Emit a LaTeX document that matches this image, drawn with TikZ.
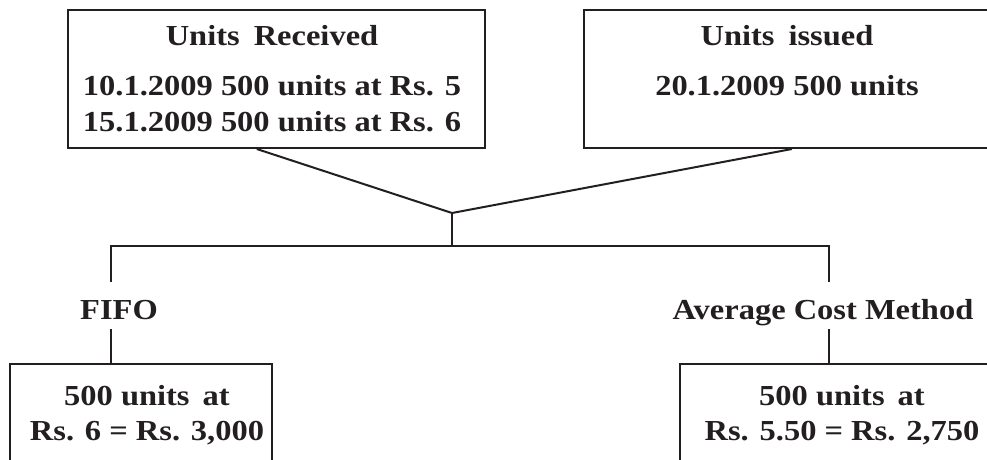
\documentclass[tikz,border=0pt]{standalone}
\usepackage{fontspec}
\setmainfont{Liberation Serif}[FakeStretch=1.12]
\usetikzlibrary{calc}
\definecolor{ink}{RGB}{35,31,32}
\begin{document}
\begin{tikzpicture}[x=1pt,y=-1pt,
  box/.style={draw=ink, line width=2pt, rectangle, inner sep=0pt},
  txt/.style={font=\fontsize{29}{34}\selectfont\bfseries, text=ink, anchor=base, inner sep=0pt},
  ttl/.style={txt, execute at begin node={\spaceskip=14pt\relax}},
  lbl/.style={txt, text height=37pt, text depth=10pt},
  link/.style={draw=ink, line width=2pt}]
\useasboundingbox (0,0) rectangle (987,459);
\clip (0,0) rectangle (987,459);
% boxes
\node[box, minimum width=417pt, minimum height=138pt] (recv) at (276.5,79) {};
\node[box, minimum width=406pt, minimum height=138pt] (issued) at (787,79) {};
\node[box, minimum width=262pt, minimum height=136pt] (fifobox) at (141,432) {};
\node[box, minimum width=324pt, minimum height=136pt] (avgbox) at (842,432) {};
% texts
\node[ttl] (t1) at (272,45) {Units Received};
\node[txt] (t2) at (272,95) {10.1.2009 500 units at Rs. 5};
\node[txt] (t3) at (272,131) {15.1.2009 500 units at Rs. 6};
\node[ttl] (t4) at (787,45) {Units issued};
\node[txt] (t5) at (787,95) {20.1.2009 500 units};
\node[lbl] (fifo) at (119,319) {FIFO};
\node[lbl] (avg) at (823,319) {Average Cost Method};
\node[txt] (b1) at (147,405) {500 units\hspace{5pt} at};
\node[txt] (b2) at (147,440) {Rs. 6 = Rs. 3,000};
\node[txt] (b3) at (842,405) {500 units\hspace{5pt} at};
\node[txt] (b4) at (842,440) {Rs. 5.50 = Rs. 2,750};
% connectors
\coordinate (j) at (452,213);
\coordinate (hb) at (452,246);
\draw[link] ($(recv.south west)!0.453!(recv.south east)$) -- (j) -- ($(issued.south west)!0.512!(issued.south east)$);
\draw[link] (j) -- (hb);
\draw[link] ([xshift=-8pt]fifo.north) |- (hb) -| ([xshift=6pt]avg.north);
\draw[link] ([xshift=-8pt]fifo.south) -- ([xshift=-8pt]fifo.south |- fifobox.north);
\draw[link] ([xshift=6pt]avg.south) -- ([xshift=6pt]avg.south |- avgbox.north);
\end{tikzpicture}
\end{document}
